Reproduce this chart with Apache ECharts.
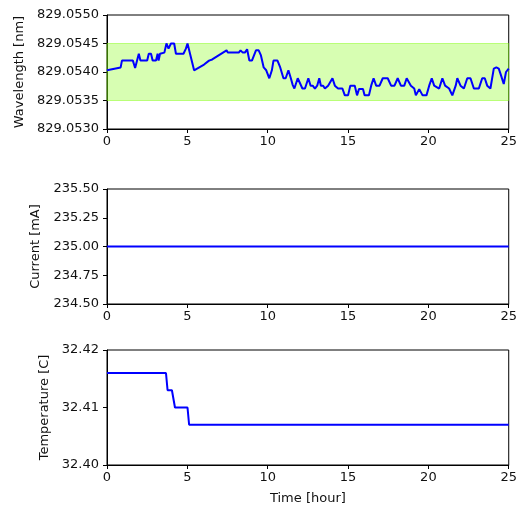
<!DOCTYPE html>
<html>
<head>
<meta charset="utf-8">
<script src="https://cdn.jsdelivr.net/npm/echarts@6/dist/echarts.min.js"></script>
<style>
  html, body { margin: 0; padding: 0; background: #fff; }
  #main { width: 520px; height: 506px; }
</style>
</head>
<body>
<div id="main"></div>
<script>
// wavelength trace (hour, nm)
var wlTime = [0, 0.85, 0.93, 1.61, 1.75, 1.98, 2.08, 2.50, 2.60, 2.74, 2.84, 3.05, 3.15, 3.21, 3.30, 3.57, 3.70, 3.83, 3.98, 4.18,
  4.29, 4.76, 4.91, 5.01, 5.42, 6.04, 6.35, 6.55, 7.44, 7.52, 8.20, 8.31, 8.45, 8.58, 8.72, 8.86, 9.02, 9.27, 9.44, 9.58,
  9.75, 9.91, 10.10, 10.26, 10.36, 10.61, 10.78, 10.98, 11.12, 11.29, 11.44, 11.56, 11.66, 11.87, 11.97, 12.16, 12.32, 12.53, 12.67, 12.80,
  12.94, 13.08, 13.21, 13.31, 13.45, 13.56, 13.76, 14.03, 14.18, 14.38, 14.65, 14.80, 15.00, 15.14, 15.42, 15.56, 15.68, 15.93, 16.03, 16.30,
  16.44, 16.59, 16.75, 16.96, 17.16, 17.47, 17.68, 17.89, 18.09, 18.29, 18.50, 18.65, 18.91, 19.12, 19.22, 19.43, 19.53, 19.64, 19.88, 20.05,
  20.21, 20.36, 20.67, 20.87, 21.04, 21.29, 21.49, 21.70, 21.80, 22.00, 22.21, 22.42, 22.62, 22.83, 23.14, 23.35, 23.51, 23.66, 23.86, 24.07,
  24.23, 24.38, 24.52, 24.69, 24.83, 25.00];
var wlVal = [829.05403, 829.05408, 829.05420, 829.05420, 829.05407, 829.05432, 829.05420, 829.05420, 829.05432, 829.05432, 829.05420, 829.05420, 829.05432, 829.05420, 829.05432, 829.05434, 829.05450, 829.05441, 829.05450, 829.05450,
  829.05432, 829.05432, 829.05441, 829.05450, 829.05403, 829.05413, 829.05420, 829.05422, 829.05438, 829.05434, 829.05434, 829.05438, 829.05434, 829.05434, 829.05440, 829.05420, 829.05420, 829.05438, 829.05438, 829.05429,
  829.05408, 829.05403, 829.05389, 829.05403, 829.05420, 829.05420, 829.05408, 829.05389, 829.05389, 829.05403, 829.05389, 829.05377, 829.05371, 829.05389, 829.05389, 829.05371, 829.05371, 829.05389, 829.05376, 829.05376,
  829.05371, 829.05376, 829.05389, 829.05376, 829.05376, 829.05371, 829.05376, 829.05389, 829.05376, 829.05371, 829.05371, 829.05359, 829.05359, 829.05376, 829.05376, 829.05359, 829.05370, 829.05370, 829.05359, 829.05359,
  829.05376, 829.05389, 829.05376, 829.05376, 829.05389, 829.05389, 829.05376, 829.05376, 829.05389, 829.05376, 829.05376, 829.05389, 829.05376, 829.05371, 829.05359, 829.05370, 829.05370, 829.05359, 829.05359, 829.05376,
  829.05389, 829.05376, 829.05371, 829.05389, 829.05376, 829.05371, 829.05359, 829.05376, 829.05389, 829.05376, 829.05371, 829.05389, 829.05389, 829.05371, 829.05371, 829.05389, 829.05389, 829.05376, 829.05371, 829.05406,
  829.05408, 829.05406, 829.05394, 829.05379, 829.05400, 829.05406];
// tolerance band on wavelength
var wlBand = [829.0535, 829.0545];

// current trace
var curTime = [0, 5, 10, 15, 20, 25];
var curVal = [235.0, 235.0, 235.0, 235.0, 235.0, 235.0];

// temperature trace
var tempTime = [0, 3.67, 3.77, 4.04, 4.23, 5.01, 5.11, 25];
var tempVal = [32.416, 32.416, 32.413, 32.413, 32.410, 32.410, 32.407, 32.407];

function pairs(xs, ys) {
  return xs.map(function (x, i) { return [x, ys[i]]; });
}

var FONT = 'DejaVu Sans';
var txt = { fontFamily: FONT, fontSize: 13, color: '#111' };

function xAx(idx, name) {
  return {
    type: 'value', gridIndex: idx, min: 0, max: 25, interval: 5,
    name: name || '', nameLocation: 'middle', nameGap: 27,
    nameTextStyle: txt,
    axisLine: { show: true, onZero: false, lineStyle: { color: '#000', width: 1 } },
    axisTick: { show: true, inside: false, length: 4, lineStyle: { color: '#000' } },
    axisLabel: Object.assign({ margin: 6 }, txt),
    splitLine: { show: false }
  };
}

function yAx(idx, name, min, max, interval, digits, gap) {
  return {
    type: 'value', gridIndex: idx, min: min, max: max, interval: interval,
    name: name, nameLocation: 'middle', nameGap: gap,
    nameTextStyle: txt,
    axisLine: { show: true, onZero: false, lineStyle: { color: '#000', width: 1 } },
    axisTick: { show: true, inside: false, length: 4, lineStyle: { color: '#000' } },
    axisLabel: Object.assign({ margin: 8, formatter: function (v) { return v.toFixed(digits); } }, txt),
    splitLine: { show: false }
  };
}

var lineStyle = { color: '#0000ff', width: 2 };

var myChart = echarts.init(document.getElementById('main'), null, { renderer: 'canvas' });
var option = {
  animation: false,
  backgroundColor: '#fff',
  grid: [
    { left: 107, top: 15, width: 404, height: 114, show: true, borderColor: '#000', borderWidth: 1 },
    { left: 107, top: 189, width: 404, height: 115, show: true, borderColor: '#000', borderWidth: 1 },
    { left: 107, top: 350, width: 404, height: 115, show: true, borderColor: '#000', borderWidth: 1 }
  ],
  xAxis: [xAx(0), xAx(1), xAx(2, 'Time [hour]')],
  yAxis: [
    yAx(0, 'Wavelength [nm]', 829.053, 829.055, 0.0005, 4, 80),
    yAx(1, 'Current [mA]', 234.5, 235.5, 0.25, 2, 62),
    yAx(2, 'Temperature [C]', 32.40, 32.42, 0.01, 2, 54)
  ],
  series: [
    {
      type: 'line', xAxisIndex: 0, yAxisIndex: 0, showSymbol: false, symbol: 'none',
      lineStyle: lineStyle,
      data: pairs(wlTime, wlVal),
      markArea: {
        silent: true,
        itemStyle: { color: 'rgba(124,252,0,0.3)', borderColor: 'rgba(124,252,0,0.45)', borderWidth: 1 },
        data: [[{ yAxis: wlBand[0] }, { yAxis: wlBand[1] }]]
      },
      z: 3
    },
    {
      type: 'line', xAxisIndex: 1, yAxisIndex: 1, showSymbol: false, symbol: 'none',
      lineStyle: lineStyle,
      data: pairs(curTime, curVal)
    },
    {
      type: 'line', xAxisIndex: 2, yAxisIndex: 2, showSymbol: false, symbol: 'none',
      lineStyle: lineStyle,
      data: pairs(tempTime, tempVal)
    }
  ]
};
myChart.setOption(option);
</script>
</body>
</html>
